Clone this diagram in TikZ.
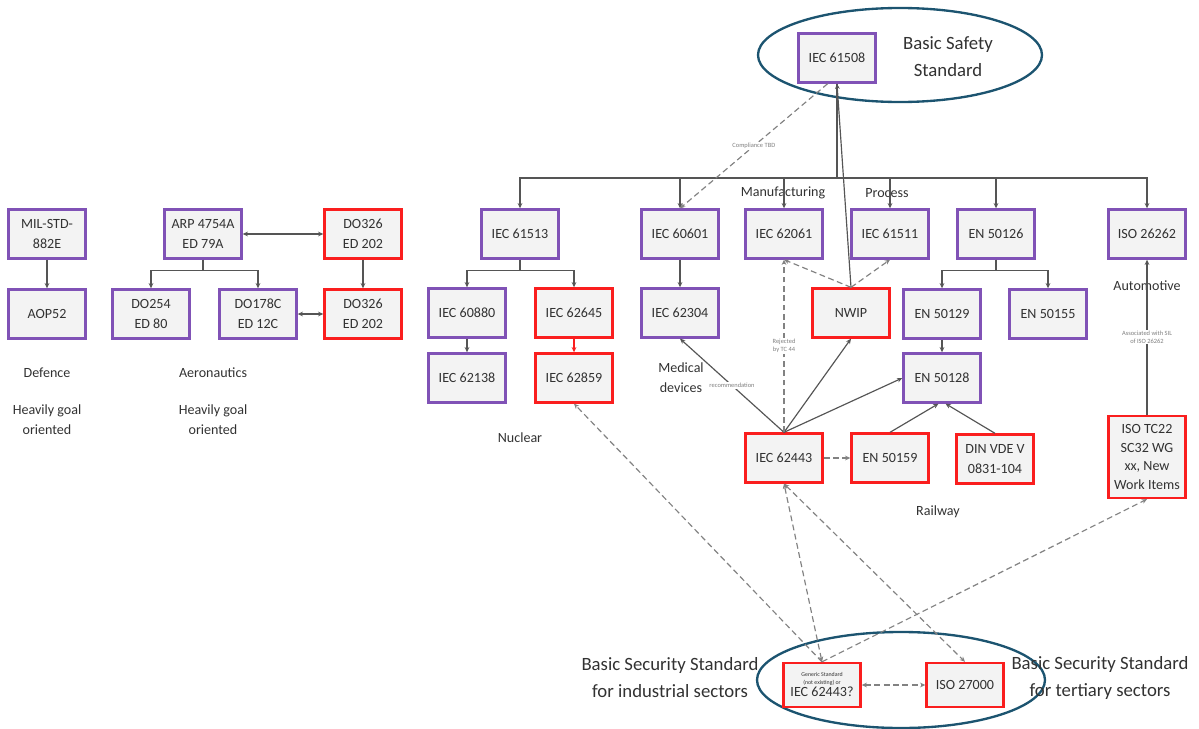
\documentclass[tikz,border=0pt]{standalone}
\usepackage{fontspec}
\setmainfont{Carlito}
\usetikzlibrary{arrows.meta}
\definecolor{stdpurple}{RGB}{128,82,182}
\definecolor{newred}{RGB}{250,30,30}
\definecolor{boxfill}{RGB}{243,243,243}
\definecolor{linkgray}{RGB}{85,85,85}
\definecolor{dashgray}{RGB}{130,130,130}
\definecolor{labelgray}{RGB}{50,50,50}
\definecolor{ringblue}{RGB}{28,84,112}

\begin{document}
\begin{tikzpicture}[x=0.03cm,y=-0.03cm,
  >={Stealth[length=4.5pt,width=4pt]},
  std/.style={draw=stdpurple,line width=2pt,fill=boxfill,minimum width=2.31cm,minimum height=1.47cm,align=center,inner sep=1pt,text=labelgray,font=\fontsize{12}{17}\selectfont},
  newstd/.style={std,draw=newred},
  link/.style={draw=linkgray,line width=1pt,->},
  tentative/.style={link,draw=dashgray,dash pattern=on 5pt off 3pt},
  sector/.style={align=center,text=labelgray,font=\fontsize{12}{17}\selectfont},
  basic/.style={align=center,text=labelgray,font=\fontsize{16}{23}\selectfont},
  remark/.style={fill=white,inner sep=1pt,align=center,text=gray,font=\fontsize{5.5}{6.5}\selectfont},
  ring/.style={draw=ringblue,line width=2pt}]
\useasboundingbox (0,0) rectangle (1199,729);

\draw[ring] (900,55) ellipse [x radius=4.26cm, y radius=1.41cm];
\draw[ring] (901,680) ellipse [x radius=4.32cm, y radius=1.44cm];

\node[std] (s61508) at (837,58) {IEC 61508};
\node[basic] (safetytxt) at (948,57) {Basic Safety\\Standard};

\node[std] (milstd) at (47,234) {MIL-STD-\\882E};
\node[std] (aop52) at (47,314) {AOP52};
\node[std] (arp) at (203,234) {ARP 4754A\\ED 79A};
\node[newstd] (do326a) at (363,234) {DO326\\ED 202};
\node[std] (do254) at (151,314) {DO254\\ED 80};
\node[std] (do178c) at (258,314) {DO178C\\ED 12C};
\node[newstd] (do326b) at (363,314) {DO326\\ED 202};

\node[std] (iec61513) at (520,234) {IEC 61513};
\node[std] (iec60880) at (467,313) {IEC 60880};
\node[newstd] (iec62645) at (574,313) {IEC 62645};
\node[std] (iec62138) at (467,378) {IEC 62138};
\node[newstd] (iec62859) at (574,378) {IEC 62859};

\node[std] (iec60601) at (680,234) {IEC 60601};
\node[std] (iec62304) at (680,313) {IEC 62304};
\node[std] (iec62061) at (784,234) {IEC 62061};
\node[std] (iec61511) at (890,234) {IEC 61511};
\node[newstd] (nwip) at (851,313) {NWIP};
\node[newstd] (iec62443) at (784,458) {IEC 62443};

\node[std] (en50126) at (996,234) {EN 50126};
\node[std] (en50129) at (942,314) {EN 50129};
\node[std] (en50155) at (1048,314) {EN 50155};
\node[std] (en50128) at (942,378) {EN 50128};
\node[newstd] (en50159) at (890,458) {EN 50159};
\node[newstd] (dinvde) at (995,459) {DIN VDE V\\0831-104};

\node[std] (iso26262) at (1147,234) {ISO 26262};
\node[newstd,minimum height=2.46cm,font=\fontsize{12}{16}\selectfont] (isotc22) at (1147,457) {ISO TC22\\SC32 WG\\xx, New\\Work Items};

\node[newstd,minimum height=1.32cm,font=\fontsize{5}{6}\selectfont] (generic) at (822,685) {Generic Standard\\(not existing) or\\[1pt]{\fontsize{12}{14}\selectfont IEC 62443?}};
\node[newstd,minimum height=1.32cm] (iso27000) at (965,685) {ISO 27000};
\node[basic] (indsec) at (670,678) {Basic Security Standard\\for industrial sectors};
\node[basic] (tersec) at (1100,678) {Basic Security Standard\\for tertiary sectors};

\node[sector] (defence) at (47,373) {Defence};
\node[sector] (defgoal) at (47,420) {Heavily goal\\oriented};
\node[sector] (aero) at (213,373) {Aeronautics};
\node[sector] (aerogoal) at (213,420) {Heavily goal\\oriented};
\node[sector] (nuclear) at (520,438) {Nuclear};
\node[sector] (manuf) at (783,193) {Manufacturing};
\node[sector] (process) at (887,193) {Process};
\node[sector] (medical) at (681,378) {Medical\\devices};
\node[sector] (railway) at (938,512) {Railway};
\node[sector] (auto) at (1147,286) {Automotive};

% safety tree
\coordinate (bus) at (837,178);
\draw[link,-] (s61508.south) -- (bus);
\foreach \col in {iec61513,iec60601,iec62061,iec61511,en50126,iso26262}
  \draw[link] (bus) -| (\col.north);
\draw[link] (nwip.north) -- (s61508.south);

\draw[link] (milstd) -- (aop52);
\draw[link,<->] (arp) -- (do326a);
\draw[link] (arp.south) -- ++(0,11) -| (do254.north);
\draw[link] (arp.south) -- ++(0,11) -| (do178c.north);
\draw[link] (do326a) -- (do326b);
\draw[link,<->] (do178c) -- (do326b);

\draw[link] (iec61513.south) -- ++(0,11) -| (iec60880.north);
\draw[link] (iec61513.south) -- ++(0,11) -| (iec62645.north);
\draw[link] (iec60880) -- (iec62138);
\draw[link,draw=newred] (iec62645) -- (iec62859);
\draw[link] (iec60601) -- (iec62304);

\draw[link] (en50126.south) -- ++(0,11) -| (en50129.north);
\draw[link] (en50126.south) -- ++(0,11) -| (en50155.north);
\draw[link] (en50129) -- (en50128);
\draw[link] (en50159.north) -- ([xshift=-3pt]en50128.south);
\draw[link] (dinvde.north) -- ([xshift=3pt]en50128.south);
\draw[link] (isotc22) -- (iso26262) node[remark,pos=0.5] {Associated with SIL\\of ISO 26262};

% security links
\draw[link] (iec62443.north) -- (iec62304.south) node[remark,pos=0.5] {recommendation};
\draw[link] (iec62443.north) -- (nwip.south);
\draw[link] (iec62443.north) -- (en50128.west);
\draw[tentative] (iec62443.north) -- (iec62061.south) node[remark,pos=0.5] {Rejected\\by TC 44};
\draw[tentative] (iec62443) -- (en50159);
\draw[tentative] (nwip.north) -- (iec62061.south);
\draw[tentative] (nwip.north) -- (iec61511.south);
\draw[tentative] (s61508.250) -- (iec60601.north) node[remark,pos=0.5] {Compliance TBD};

\draw[tentative,<->] (generic.north) -- (iec62443.south);
\draw[tentative] (generic.north) -- (iec62859.south);
\draw[tentative] (generic.north) -- (isotc22.south);
\draw[tentative,<->] (iec62443.south) -- (iso27000.north);
\draw[tentative,<->] (generic) -- (iso27000);
\end{tikzpicture}
\end{document}
